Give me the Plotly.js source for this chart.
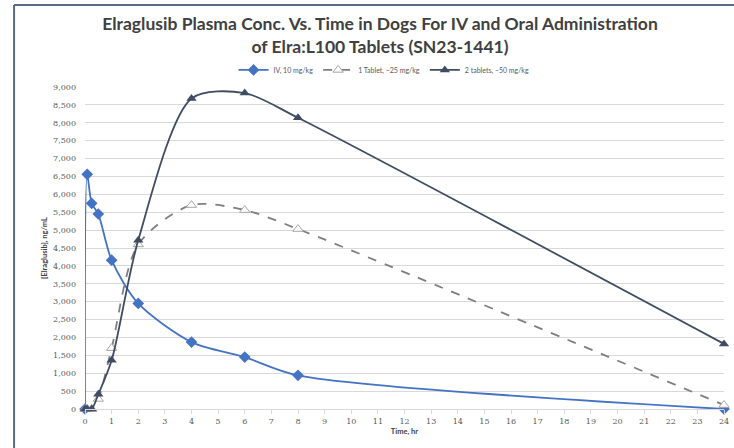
<!DOCTYPE html>
<html><head><meta charset="utf-8">
<script src="https://cdn.plot.ly/plotly-3.0.1.min.js"></script>
<style>html,body{margin:0;padding:0;background:#fff;}#chart{width:734px;height:448px;}</style>
</head><body><div id="chart"></div>
<script>
const ivTime = [0, 0.083, 0.25, 0.5, 1, 2, 4, 6, 8, 24];
const ivConc = [0, 6560, 5750, 5450, 4160, 2950, 1870, 1450, 940, 0];
const oralTime = [0, 0.083, 0.25, 0.5, 1, 2, 4, 6, 8, 24];
const tab1Conc = [0, 0, 0, 280, 1700, 4600, 5700, 5560, 5030, 110];
const tab2Conc = [0, 0, 0, 410, 1360, 4720, 8680, 8830, 8140, 1820];
const xTicks = [0,1,2,3,4,5,6,7,8,9,10,11,12,13,14,15,16,17,18,19,20,21,22,23,24];
const yTicks = [0,500,1000,1500,2000,2500,3000,3500,4000,4500,5000,5500,6000,6500,7000,7500,8000,8500,9000];
const seriesNames = ["IV, 10 mg/kg", "1 Tablet, ~25 mg/kg", "2 tablets, ~50 mg/kg"];

const tickFont = {size: 8, color: '#595959', family: '"DejaVu Serif", serif'};

const traces = [
  {x: ivTime, y: ivConc, name: seriesNames[0], mode: 'lines+markers', type: 'scatter',
   line: {color: '#4472C4', width: 1.8, shape: 'spline', smoothing: 0.8},
   marker: {symbol: 'diamond', size: 9, color: '#4472C4'}, cliponaxis: false},
  {x: oralTime, y: tab1Conc, name: seriesNames[1], mode: 'lines+markers', type: 'scatter',
   line: {color: '#7f7f7f', width: 1.8, dash: 'dash', shape: 'spline', smoothing: 0.8},
   marker: {symbol: 'triangle-up', size: 9, color: '#ffffff', line: {color: '#a6a6a6', width: 1}}, cliponaxis: false},
  {x: oralTime, y: tab2Conc, name: seriesNames[2], mode: 'lines+markers', type: 'scatter',
   line: {color: '#3f4d63', width: 1.8, shape: 'spline', smoothing: 0.8},
   marker: {symbol: 'triangle-up', size: 9, color: '#3f4d63'}, cliponaxis: false}
];

const layout = {
  width: 734, height: 448,
  margin: {l: 85, r: 10, t: 87, b: 39},
  paper_bgcolor: '#fff', plot_bgcolor: '#fff',
  font: {family: 'Lato, "Open Sans", sans-serif', color: '#595959'},
  title: {text: '<b>Elraglusib Plasma Conc. Vs. Time in Dogs For IV and Oral Administration<br>of Elra:L100 Tablets (SN23-1441)</b>',
    font: {size: 17.5, color: '#404040', family: 'Lato, "Open Sans", sans-serif'},
    x: 380/734, xanchor: 'center', yref: 'container', y: 1 - 30/448, yanchor: 'middle'},
  showlegend: true,
  legend: {orientation: 'h', x: 0.468, xanchor: 'center', y: 1.053, yanchor: 'middle',
    font: {size: 7, color: '#595959'}, itemwidth: 30, tracegroupgap: 0},
  xaxis: {range: [0, 24], tickmode: 'array', tickvals: xTicks, ticktext: xTicks.map(String), showgrid: false, zeroline: false,
    showline: true, linecolor: '#d9d9d9', ticks: 'outside', ticklen: 4, tickcolor: '#d9d9d9',
    tickfont: tickFont,
    title: {text: '<b>Time, hr</b>', font: {size: 7.5, color: '#404040'}, standoff: 4}},
  yaxis: {range: [0, 9000], tickmode: 'array', tickvals: yTicks, ticktext: yTicks.map(v => v.toLocaleString('en-US')),
    showgrid: true, gridcolor: '#d9d9d9', gridwidth: 1,
    zeroline: false, showline: false, ticks: '', ticklabelstandoff: 8,
    tickfont: tickFont,
    title: {text: '<b>[Elraglusib], ng/mL</b>', font: {size: 7.5, color: '#404040'}, standoff: 4}},
  shapes: [
    {type: 'line', xref: 'paper', yref: 'paper', x0: -0.111, x1: -0.111, y0: -0.2, y1: 1.255,
     line: {color: '#5b6b82', width: 2}},
    {type: 'line', xref: 'paper', yref: 'paper', x0: -0.111, x1: 1.1, y0: 1.255, y1: 1.255,
     line: {color: '#5b6b82', width: 2}}
  ]
};
Plotly.newPlot('chart', traces, layout, {displayModeBar: false, staticPlot: true});
</script></body></html>
